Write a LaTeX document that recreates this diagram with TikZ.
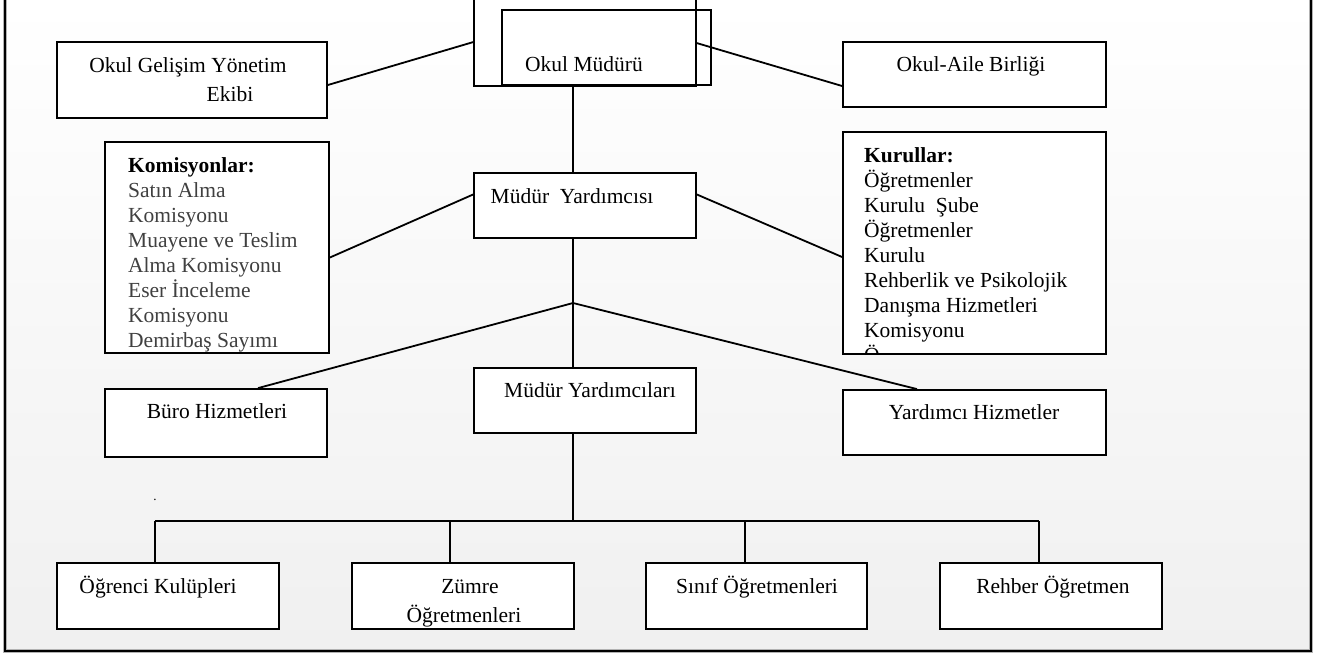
\documentclass[tikz,border=0pt]{standalone}
\usepackage{fontspec}
\setmainfont{Liberation Serif}
\usetikzlibrary{calc}
\definecolor{bgbot}{RGB}{240,240,240}
\definecolor{itemgray}{RGB}{64,64,64}
\begin{document}
\begin{tikzpicture}[x=1pt,y=-1pt,
  every node/.style={font=\fontsize{21.5}{25}\selectfont},
  box/.style={draw=black, line width=1.8pt, fill=white, inner sep=0pt},
  thinbox/.style={draw=black, line width=1.1pt, inner sep=0pt},
  lbl/.style={inner sep=0pt, anchor=base},
  lbll/.style={inner sep=0pt, anchor=base west},
  conn/.style={draw=black, line width=1.8pt}]
\useasboundingbox (0,0) rectangle (1332,656);
\clip (0,0) rectangle (1332,656);
\fill[white] (0,0) rectangle (1332,656);
\shade[top color=white, bottom color=bgbot] (5,0) rectangle (1311,651);
\draw[line width=4.5pt, black!30] (5,-10) -- (5,651) -- (1311,651) -- (1311,-10);
\draw[line width=2.4pt, black] (5,-10) -- (5,651) -- (1311,651) -- (1311,-10);

% boxes
\node[box, minimum width=270pt, minimum height=76pt] (ogye) at (192,80) {};
\fill[white] (474,-10) rectangle (696,86);
\fill[white] (502,10) rectangle (711,85);
\node[thinbox, minimum width=222pt, minimum height=96pt] (mudo) at (585,38) {};
\node[thinbox, minimum width=209pt, minimum height=75pt] (mudi) at (606.5,47.5) {};
\node[box, minimum width=263pt, minimum height=65pt] (oab) at (974.5,74.5) {};
\node[box, minimum width=224pt, minimum height=211pt] (kom) at (217,247.5) {};
\node[box, minimum width=222pt, minimum height=65pt] (my) at (585,205.5) {};
\node[box, minimum width=263pt, minimum height=222pt] (kur) at (974.5,243) {};
\node[box, minimum width=222pt, minimum height=68pt] (buro) at (216,423) {};
\node[box, minimum width=222pt, minimum height=65pt] (myl) at (585,400.5) {};
\node[box, minimum width=263pt, minimum height=65pt] (yh) at (974.5,422.5) {};
\node[box, minimum width=222pt, minimum height=66pt] (ok) at (168,596) {};
\node[box, minimum width=222pt, minimum height=66pt] (zum) at (463,596) {};
\node[box, minimum width=221pt, minimum height=66pt] (sin) at (756.5,596) {};
\node[box, minimum width=222pt, minimum height=66pt] (reh) at (1051,596) {};

% texts
\node[lbl] (togye1) at (188,72) {Okul Gelişim Yönetim};
\node[lbl] (togye2) at (230,101) {Ekibi};
\node[lbl] (tmud) at (584,71) {Okul Müdürü};
\node[lbl] (toab) at (971,71) {Okul-Aile Birliği};
\node[lbll] (tkom) at (128,172) {\parbox[t]{200pt}{\baselineskip=25pt
  \textbf{Komisyonlar:}\\
  \textcolor{itemgray}{Satın Alma}\\
  \textcolor{itemgray}{Komisyonu}\\
  \textcolor{itemgray}{Muayene ve Teslim}\\
  \textcolor{itemgray}{Alma Komisyonu}\\
  \textcolor{itemgray}{Eser İnceleme}\\
  \textcolor{itemgray}{Komisyonu}\\
  \textcolor{itemgray}{Demirbaş Sayımı}}};
\node[lbl] (tmy) at (572,203) {Müdür~~Yardımcısı};
\begin{scope}
\clip (844,133) rectangle (1105,353);
\node[lbll] (tkur) at (864,162) {\parbox[t]{240pt}{\baselineskip=25pt
  \textbf{Kurullar:}\\
  Öğretmenler\\
  Kurulu~~Şube\\
  Öğretmenler\\
  Kurulu\\
  Rehberlik ve Psikolojik\\
  Danışma Hizmetleri\\
  Komisyonu\\
  Ö}};
\end{scope}
\node[lbl] (tburo) at (217,418) {Büro Hizmetleri};
\node[lbl] (tmyl) at (590,397) {Müdür Yardımcıları};
\node[lbl] (tyh) at (974,419) {Yardımcı Hizmetler};
\node[lbl] (tok) at (158,593) {Öğrenci Kulüpleri};
\node[lbl] (tzum1) at (470,593) {Zümre};
\node[lbl] (tzum2) at (464,622) {Öğretmenleri};
\node[lbl] (tsin) at (757,593) {Sınıf Öğretmenleri};
\node[lbl] (treh) at (1053,593) {Rehber Öğretmen};
\node[inner sep=0pt, font=\fontsize{13}{13}\selectfont, anchor=base] (dot) at (155,500) {.};

% connectors
\coordinate (ax) at (573,0);
\coordinate (j1) at (573,303);
\coordinate (bl) at (155,521);
\coordinate (bz) at (450,521);
\coordinate (bm) at (573,521);
\coordinate (bs) at (745,521);
\coordinate (br) at (1039,521);
\draw[conn] ($(ogye.east)+(0,5)$) -- ($(mudo.west)+(0,4)$);
\draw[conn] ($(mudo.east)+(0,5)$) -- ($(oab.west)+(0,11.5)$);
\draw[conn] (mudo.south -| ax) -- (my.north -| ax);
\draw[conn] ($(kom.east)+(0,10)$) -- ($(my.west)+(0,-11)$);
\draw[conn] ($(my.east)+(0,-11)$) -- ($(kur.west)+(0,14)$);
\draw[conn] (my.south -| ax) -- (j1) -- (myl.north -| ax);
\draw[conn] ($(buro.north)+(42,0)$) -- (j1) -- ($(yh.north)+(-57.5,0)$);
\draw[conn] (myl.south -| ax) -- (bm);
\draw[conn] (bl) -- (br);
\draw[conn] (bl) -- (bl |- ok.north);
\draw[conn] (bz) -- (bz |- zum.north);
\draw[conn] (bs) -- (bs |- sin.north);
\draw[conn] (br) -- (br |- reh.north);
\end{tikzpicture}
\end{document}
